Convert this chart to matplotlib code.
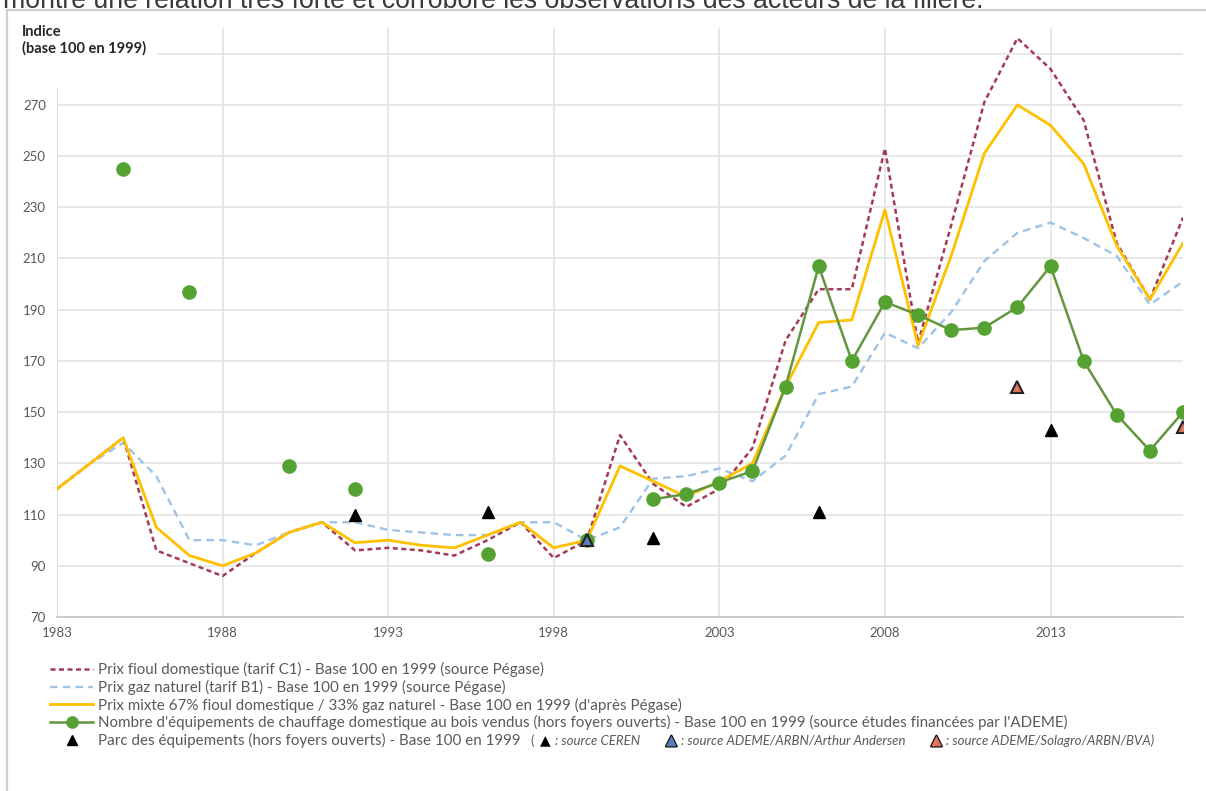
import numpy as np
import matplotlib.pyplot as plt
from matplotlib import patheffects as pe
from matplotlib.patches import Rectangle

plt.rcParams['font.family'] = ['Lato', 'DejaVu Sans']

# Data (index, base 100 in 1999)
years = np.arange(1983, 2018)

fioul = [120, 130, 140, 96, 91, 86, 95, 103, 107, 96, 97, 96, 94, 100, 107, 93, 100,
         141, 122, 113, 120, 136, 178, 198, 198, 253, 177, 223, 271, 296, 284, 264,
         216, 194, 226]
gaz = [120, 130, 138, 125, 100, 100, 98, 103, 107, 107, 104, 103, 102, 102, 107, 107, 100,
       105, 124, 125, 128, 123, 133, 157, 160, 181, 175, 189, 209, 220, 224, 218,
       211, 192, 201]
mixte = [120, 130, 140, 105, 94, 90, 95, 103, 107, 99, 100, 98, 97, 102, 107, 97, 100,
         129, 123, 117, 123, 130, 160, 185, 186, 229, 176, 211, 251, 270, 262, 247,
         215, 194, 216]
nan = np.nan
ventes = [nan, nan, 245, nan, 197, nan, nan, 129, nan, 120, nan, nan, nan, 94.5, nan, nan, 100,
          nan, 116, 118, 122.5, 127, 160, 207, 170, 193, 188, 182, 183, 191, 207, 170,
          149, 135, 150]

ceren_years = [1992, 1996, 2001, 2006, 2013]
ceren_vals = [110, 111, 101, 111, 143]
arthur_years = [1999]
arthur_vals = [100]
solagro_years = [2012, 2017]
solagro_vals = [160, 144]

labels = [
    "Prix fioul domestique (tarif C1) - Base 100 en 1999 (source Pégase)",
    "Prix gaz naturel (tarif B1) - Base 100 en 1999 (source Pégase)",
    "Prix mixte 67% fioul domestique / 33% gaz naturel - Base 100 en 1999 (d'après Pégase)",
    "Nombre d'équipements de chauffage domestique au bois vendus (hors foyers ouverts) - Base 100 en 1999 (source études financées par l'ADEME)",
    "Parc des équipements (hors foyers ouverts) - Base 100 en 1999",
]

W, H = 1206, 791
fig = plt.figure(figsize=(W / 100, H / 100), dpi=100)

# page text cut by the crop, and the chart frame
fig.text(3 / W, 1 - 8 / H, "montre une relation très forte et corrobore les observations des acteurs de la filière.",
         fontsize=19.2, family='Liberation Sans', color='#3a3a3a', va='baseline')
fig.add_artist(Rectangle((7 / W, -0.1), 1.1, 1.1 - 10 / H, transform=fig.transFigure,
                         fill=False, ec='#cfcfcf', lw=1.6, zorder=0))

ax = fig.add_axes([57 / W, 1 - 617 / H, (1183 - 57) / W, (617 - 28) / H])

l_gaz, = ax.plot(years, gaz, color='#9dc3e6', lw=1.7, dashes=(3.2, 2.2), zorder=2)
l_fioul, = ax.plot(years, fioul, color='#a33a58', lw=1.8, dashes=(2, 1.4), zorder=3)
l_mixte, = ax.plot(years, mixte, color='#ffc000', lw=2, zorder=4)
l_ventes, = ax.plot(years, ventes, color='#63973f', lw=1.8, marker='o', ms=9.5,
                    mfc='#55a232', mec='#55a232', zorder=5)
l_ceren, = ax.plot(ceren_years, ceren_vals, ls='none', marker='^', ms=9, color='black', zorder=6)
ax.plot(arthur_years, arthur_vals, ls='none', marker='^', ms=9, mfc='#5b7fb5', mec='#222222',
        mew=1.5, zorder=6)
ax.plot(solagro_years, solagro_vals, ls='none', marker='^', ms=9, mfc='#e0745c', mec='#222222',
        mew=1.5, zorder=6)

ax.set_xlim(1983, 2017)
ax.set_ylim(70, 300)
ax.set_xticks(range(1983, 2018, 5))
yt = list(range(70, 291, 20))
ax.set_yticks(yt)
ax.set_yticklabels([str(v) if v < 290 else '' for v in yt])
ax.grid(color='#e4e4e4', lw=1.2)
ax.set_axisbelow(True)
for s in ['top', 'right']:
    ax.spines[s].set_visible(False)
ax.spines['left'].set_color('#e0e0e0')
ax.spines['bottom'].set_color('#c6c6c6')
ax.spines['bottom'].set_linewidth(1.2)
ax.tick_params(length=0, labelsize=9.5, colors='#595959')
ax.tick_params(axis='y', pad=8)
ax.tick_params(axis='x', pad=7)

# axis title in a white box, as in the source
fig.add_artist(Rectangle((15 / W, 1 - 88 / H), 142 / W, 72 / H, transform=fig.transFigure,
                         fc='white', ec='none', zorder=2.5))
fig.text(22 / W, 1 - 32 / H, "Indice", fontsize=10.5, fontweight='bold',
         color='#262626', va='center', zorder=3)
fig.text(22 / W, 1 - 48 / H, "(base 100 en 1999)", fontsize=10.5, fontweight='bold',
         color='#262626', va='center', zorder=3)

leg = fig.legend([l_fioul, l_gaz, l_mixte, l_ventes, l_ceren], labels,
                 loc='upper left', bbox_to_anchor=(50 / W, 1 - 662 / H), frameon=False,
                 fontsize=10.9, handlelength=2.85, handletextpad=0.33, labelspacing=0.18,
                 borderpad=0, borderaxespad=0, labelcolor='#595959', markerscale=0.85)

# source detail for the triangles after the last legend entry
fig.canvas.draw()
renderer = fig.canvas.get_renderer()
last = leg.get_texts()[-1].get_window_extent(renderer)
y_txt = (last.y0 + last.y1) / 2 / H
x = last.x1 + 10


def put(s, px, **kw):
    opts = dict(va='center', fontsize=9.5, color='#595959')
    opts.update(kw)
    t = fig.text(px / W, y_txt, s, **opts)
    return t.get_window_extent(renderer).x1


x = put("(", x) + 6
pieces = [("black", None, ": source CEREN"),
          ("#5b7fb5", 'black', ": source ADEME/ARBN/Arthur Andersen"),
          ("#e0745c", 'black', ": source ADEME/Solagro/ARBN/BVA)")]
for fc, ec, txt in pieces:
    effects = [pe.withStroke(linewidth=1.6, foreground=ec)] if ec else None
    x = put("▲", x, family='DejaVu Sans', color=fc, fontsize=10, path_effects=effects) + 4
    x = put(txt, x, style='italic') + 26

fig.savefig('out.png', dpi=100)
